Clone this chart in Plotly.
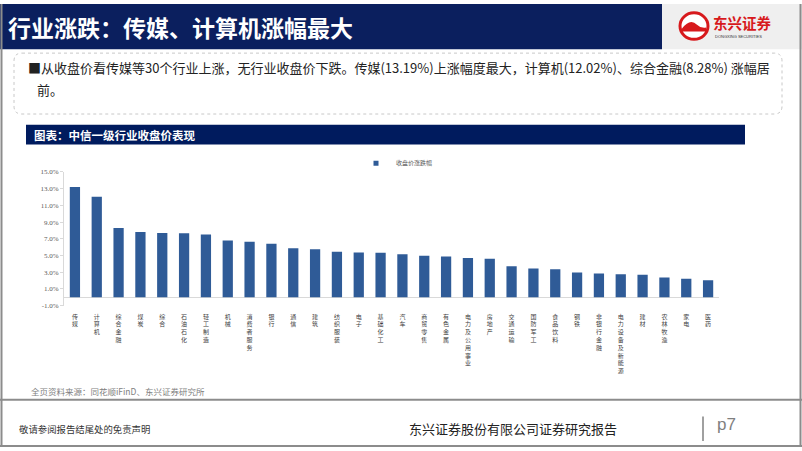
import plotly.graph_objects as go

W, H = 802, 451

categories = ["传媒", "计算机", "综合金融", "煤炭", "综合", "石油石化", "轻工制造", "机械",
              "消费者服务", "银行", "通信", "建筑", "纺织服装", "电子", "基础化工", "汽车",
              "商贸零售", "有色金属", "电力及公用事业", "房地产", "交通运输", "国防军工",
              "食品饮料", "钢铁", "非银行金融", "电力设备及新能源", "建材", "农林牧渔", "家电", "医药"]
values = [13.19, 12.02, 8.28, 7.82, 7.70, 7.67, 7.50, 6.80,
          6.65, 6.40, 5.86, 5.74, 5.43, 5.35, 5.31, 5.16,
          4.96, 4.88, 4.69, 4.60, 3.70, 3.43,
          3.35, 2.96, 2.84, 2.76, 2.68, 2.37, 2.21, 2.02]
series_name = "收盘价涨跌幅"
y_tickvals = [-1, 1, 3, 5, 7, 9, 11, 13, 15]
y_ticktext = [f"{v:.1f}%" for v in y_tickvals]

NAVY = "#0b1f5e"
BAR = "#2f5b97"
CJK = "Noto Sans CJK SC"
SERIF = "Liberation Serif"


def X(x):
    return x / W


def Y(y):
    return 1 - y / H


vertical_labels = ["<br>".join(list(c)) for c in categories]

fig = go.Figure()
fig.add_trace(go.Bar(x=vertical_labels, y=values, name=series_name,
                     marker=dict(color=BAR, line=dict(width=0)),
                     showlegend=False))
# legend-only entry with a small square swatch
fig.add_trace(go.Scatter(x=[None], y=[None], mode="markers", name=series_name,
                         marker=dict(symbol="square", size=5, color=BAR), showlegend=True))

shapes = []
# title bar
shapes.append(dict(type="rect", xref="paper", yref="paper", x0=X(0), x1=X(662), y0=Y(46), y1=Y(0),
                   fillcolor=NAVY, line=dict(width=0), layer="below"))
shapes.append(dict(type="rect", xref="paper", yref="paper", x0=X(662), x1=X(802), y0=Y(46), y1=Y(0),
                   fillcolor="#efefef", line=dict(width=0), layer="below"))
# summary box (rounded, dashed)
x0b, x1b, y0b, y1b, r = 14, 782, 50, 112, 8
path = (f"M {X(x0b + r)} {Y(y0b)} L {X(x1b - r)} {Y(y0b)} Q {X(x1b)} {Y(y0b)} {X(x1b)} {Y(y0b + r)} "
        f"L {X(x1b)} {Y(y1b - r)} Q {X(x1b)} {Y(y1b)} {X(x1b - r)} {Y(y1b)} "
        f"L {X(x0b + r)} {Y(y1b)} Q {X(x0b)} {Y(y1b)} {X(x0b)} {Y(y1b - r)} "
        f"L {X(x0b)} {Y(y0b + r)} Q {X(x0b)} {Y(y0b)} {X(x0b + r)} {Y(y0b)} Z")
shapes.append(dict(type="path", xref="paper", yref="paper", path=path,
                   line=dict(color="#c8c8c8", width=1, dash="dot"), fillcolor="rgba(0,0,0,0)"))
# chart title bar
shapes.append(dict(type="rect", xref="paper", yref="paper", x0=X(26), x1=X(745), y0=Y(143), y1=Y(123),
                   fillcolor="#001b5e", line=dict(width=0), layer="below"))
# divider & borders
shapes.append(dict(type="line", xref="paper", yref="paper", x0=X(0), x1=X(802), y0=Y(403), y1=Y(403),
                   line=dict(color="#8c8c8c", width=2)))
shapes.append(dict(type="line", xref="paper", yref="paper", x0=X(1.5), x1=X(1.5), y0=Y(0), y1=Y(451),
                   line=dict(color="#8c8c8c", width=2)))
shapes.append(dict(type="line", xref="paper", yref="paper", x0=X(800.5), x1=X(800.5), y0=Y(0), y1=Y(451),
                   line=dict(color="#8c8c8c", width=2)))
shapes.append(dict(type="line", xref="paper", yref="paper", x0=X(0), x1=X(802), y0=Y(450), y1=Y(450),
                   line=dict(color="#8c8c8c", width=2)))
# page separator
shapes.append(dict(type="line", xref="paper", yref="paper", x0=X(703), x1=X(703), y0=Y(420), y1=Y(445),
                   line=dict(color="#808080", width=1.5)))
# logo
shapes.append(dict(type="circle", xref="paper", yref="paper", x0=X(680), x1=X(708), y0=Y(36), y1=Y(9),
                   fillcolor="white", line=dict(color="#d7191c", width=3)))
shapes.append(dict(type="path", xref="paper", yref="paper",
                   path=f"M {X(682)} {Y(25)} Q {X(690)} {Y(14)} {X(697)} {Y(21)} Q {X(701)} {Y(25)} {X(706)} {Y(24)} "
                        f"L {X(706)} {Y(28)} L {X(682)} {Y(28)} Z",
                   fillcolor="#d7191c", line=dict(width=0)))

annotations = []
annotations.append(dict(text="<b>行业涨跌：传媒、计算机涨幅最大</b>", xref="paper", yref="paper",
                        x=X(6), y=Y(23), xanchor="left", yanchor="middle", showarrow=False,
                        font=dict(family=CJK, size=23, color="white")))
annotations.append(dict(text="<b>东兴证券</b>", xref="paper", yref="paper",
                        x=X(711), y=Y(19), xanchor="left", yanchor="middle", showarrow=False,
                        font=dict(family=CJK, size=14.5, color="#d7191c")))
annotations.append(dict(text="DONGXING SECURITIES", xref="paper", yref="paper",
                        x=X(713), y=Y(33), xanchor="left", yanchor="middle", showarrow=False,
                        font=dict(family="Liberation Sans", size=4, color="#333333")))
annotations.append(dict(text="■从收盘价看传媒等30个行业上涨，无行业收盘价下跌。传媒(13.19%)上涨幅度最大，计算机(12.02%)、综合金融(8.28%) 涨幅居",
                        xref="paper", yref="paper", x=X(26), y=Y(65), xanchor="left", yanchor="middle",
                        showarrow=False, font=dict(family=CJK, size=13, color="#222222")))
annotations.append(dict(text="前。", xref="paper", yref="paper", x=X(35), y=Y(87), xanchor="left",
                        yanchor="middle", showarrow=False, font=dict(family=CJK, size=13, color="#222222")))
annotations.append(dict(text="<b>图表：中信一级行业收盘价表现</b>", xref="paper", yref="paper",
                        x=X(32), y=Y(133), xanchor="left", yanchor="middle", showarrow=False,
                        font=dict(family=CJK, size=11.5, color="white")))
annotations.append(dict(text="全页资料来源：同花顺iFinD、东兴证券研究所", xref="paper", yref="paper",
                        x=X(29), y=Y(394), xanchor="left", yanchor="middle", showarrow=False,
                        font=dict(family=CJK, size=8.5, color="#7f7f7f")))
annotations.append(dict(text="敬请参阅报告结尾处的免责声明", xref="paper", yref="paper",
                        x=X(17), y=Y(433), xanchor="left", yanchor="middle", showarrow=False,
                        font=dict(family=CJK, size=9.4, color="#333333")))
annotations.append(dict(text="东兴证券股份有限公司证券研究报告", xref="paper", yref="paper",
                        x=X(407), y=Y(432), xanchor="left", yanchor="middle", showarrow=False,
                        font=dict(family=CJK, size=13, color="#222222")))
annotations.append(dict(text="p7", xref="paper", yref="paper",
                        x=X(715), y=Y(428), xanchor="left", yanchor="middle", showarrow=False,
                        font=dict(family="Liberation Sans", size=17, color="#7f7f7f")))

fig.update_layout(
    width=W, height=H, autosize=False,
    margin=dict(l=0, r=0, t=0, b=0),
    paper_bgcolor="white", plot_bgcolor="white",
    bargap=0.53,
    shapes=shapes, annotations=annotations,
    showlegend=True,
    legend=dict(orientation="h", x=X(356), y=Y(162), xanchor="left", yanchor="middle",
                font=dict(family=CJK, size=6, color="#595959"), itemwidth=30,
                bgcolor="rgba(0,0,0,0)", tracegroupgap=0),
    xaxis=dict(domain=[X(64), X(719)], showline=False, showgrid=False, zeroline=False,
               ticks="", tickangle=0, tickfont=dict(family=CJK, size=6, color="#404040"),
               ticklabelstandoff=6, fixedrange=True),
    yaxis=dict(domain=[Y(307), Y(171)], range=[-1, 15], tickvals=y_tickvals, ticktext=y_ticktext,
               showgrid=False, zeroline=True, zerolinecolor="#d9d9d9", zerolinewidth=1,
               showline=True, linecolor="#d9d9d9", linewidth=1, ticks="outside", ticklen=3,
               tickcolor="#d9d9d9", tickfont=dict(family=SERIF, size=7, color="#595959"),
               fixedrange=True),
)

fig.write_html("out.html", config={"displayModeBar": False},
               post_script="document.body.style.margin='0';document.body.style.overflow='hidden';")
